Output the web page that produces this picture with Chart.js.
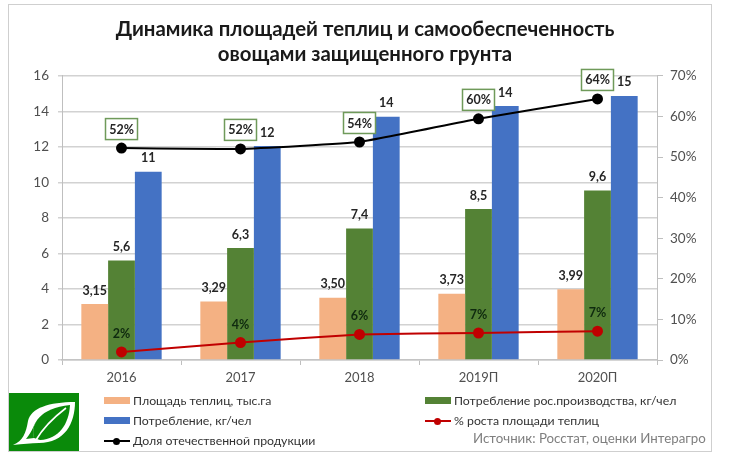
<!DOCTYPE html>
<html><head><meta charset="utf-8">
<script src="https://cdn.jsdelivr.net/npm/chart.js@4"></script>
<style>
html,body{margin:0;padding:0;background:#fff;width:730px;height:463px;overflow:hidden;font-family:Lato,sans-serif}
#frame{position:absolute;left:8px;top:4px;width:704px;height:448px;border:1px solid #cfcfcf;box-sizing:border-box}
#c{position:absolute;left:0;top:0}
#logo{position:absolute;left:9px;top:393px}
.lg{position:absolute;font-size:12.3px;color:#333;line-height:16px;white-space:nowrap}
.sw{position:absolute;width:26px;height:7px}
.ln{position:absolute;width:26px;height:2px}
.dot{position:absolute;width:7px;height:7px;border-radius:50%}
#src{position:absolute;left:473px;top:430px;font-size:13.3px;line-height:16px;color:#7f7f7f;white-space:nowrap}
</style></head><body>
<div id="frame"></div>
<canvas id="c" width="730" height="463"></canvas>
<svg id="logo" width="70" height="58" viewBox="0 0 70 58">
<rect width="70" height="58" fill="#0a8a0a"/>
<path d="M4 52C14 48 17 40 19 28C22 15 40 9 66 9C66 30 56 50 30 50C22 50 14 51 4 52Z" fill="#fff"/>
<path d="M25 45C21 31 31 15 61 12C60 31 50 46 31 47Z" fill="#0a8a0a"/>
<path d="M27 47C34 35 44 25 57 15" fill="none" stroke="#fff" stroke-width="1.6"/>
<path d="M25 45C24 40 24 35 26 30C23 38 20 42 17 46Z" fill="#0a8a0a"/>
</svg>
<div class="sw" style="left:104px;top:397px;background:#f4b183"></div><div class="lg" style="left:133px;top:393px">Площадь теплиц, тыс.га</div>
<div class="sw" style="left:104px;top:417px;background:#4472c4"></div><div class="lg" style="left:133px;top:413px">Потребление, кг/чел</div>
<div class="ln" style="left:104px;top:440px;background:#000"></div><div class="dot" style="left:113px;top:437.5px;background:#000"></div><div class="lg" style="left:133px;top:433px">Доля отечественной продукции</div>
<div class="sw" style="left:425px;top:397px;background:#548235"></div><div class="lg" style="left:454px;top:393px">Потребление рос.производства, кг/чел</div>
<div class="ln" style="left:425px;top:420px;background:#c00000"></div><div class="dot" style="left:434px;top:417.5px;background:#c00000"></div><div class="lg" style="left:454px;top:413px">% роста площади теплиц</div>
<div id="src">Источник: Росстат, оценки Интерагро</div>
<script>
const categories=['2016','2017','2018','2019П','2020П'];
const areaValues=[3.15,3.29,3.50,3.73,3.99];
const domesticConsumption=[5.6,6.3,7.4,8.5,9.55];
const totalConsumption=[10.6,12.05,13.7,14.3,14.87];
const areaGrowth=[2.0,4.3,6.3,6.65,7.1];
const domesticShare=[52.2,52.0,53.7,59.4,64.3];
const areaLabels=['3,15','3,29','3,50','3,73','3,99'];
const domesticLabels=['5,6','6,3','7,4','8,5','9,6'];
const totalLabels=['11','12','14','14','15'];
const growthLabels=['2%','4%','6%','7%','7%'];
const shareLabels=['52%','52%','54%','60%','64%'];
const titleLines=['Динамика площадей теплиц и самообеспеченность','овощами защищенного грунта'];

const labelPlugin={id:'labels',afterDatasetsDraw(ch){
  const g=ch.ctx;g.save();g.textAlign='center';g.textBaseline='middle';
  g.font='bold 12.5px Lato';g.fillStyle='#262626';
  [[0,areaLabels],[1,domesticLabels],[2,totalLabels]].forEach(([d,t])=>{
    ch.getDatasetMeta(d).data.forEach((e,i)=>{g.fillText(t[i],e.x,e.y-13.5)});
  });
  g.fillStyle='#0f2a0f';
  ch.getDatasetMeta(3).data.forEach((e,i)=>{g.fillText(growthLabels[i],e.x,e.y-18)});
  ch.getDatasetMeta(4).data.forEach((e,i)=>{
    g.fillStyle='#fff';g.strokeStyle='#6f9a5a';g.lineWidth=1.5;
    const w=32,h=21,x=e.x-w/2,y=e.y-h-8.5;
    g.fillRect(x,y,w,h);g.strokeRect(x,y,w,h);
    g.fillStyle='#262626';g.fillText(shareLabels[i],e.x,y+h/2+0.5);
  });
  g.restore();
}};

new Chart(document.getElementById('c'),{
  type:'bar',
  data:{labels:categories,datasets:[
    {label:'Площадь теплиц, тыс.га',data:areaValues,backgroundColor:'#f4b183',yAxisID:'y',order:3},
    {label:'Потребление рос.производства, кг/чел',data:domesticConsumption,backgroundColor:'#548235',yAxisID:'y',order:3},
    {label:'Потребление, кг/чел',data:totalConsumption,backgroundColor:'#4472c4',yAxisID:'y',order:3},
    {label:'% роста площади теплиц',type:'line',data:areaGrowth,borderColor:'#c00000',backgroundColor:'#c00000',borderWidth:2,pointRadius:4.5,pointBackgroundColor:'#c00000',yAxisID:'y1',order:1,tension:0.1},
    {label:'Доля отечественной продукции',type:'line',data:domesticShare,borderColor:'#000',backgroundColor:'#000',borderWidth:2,pointRadius:4.5,pointBackgroundColor:'#000',yAxisID:'y1',order:1,tension:0.1}
  ]},
  options:{
    responsive:false,animation:false,
    layout:{padding:0},
    datasets:{bar:{categoryPercentage:0.675,barPercentage:1}},
    plugins:{legend:{display:false},tooltip:{enabled:false},
      title:{display:true,text:titleLines,color:'#1a1a1a',font:{family:'Lato',size:20.4,weight:'bold',lineHeight:1.27},padding:{top:16,bottom:8}}},
    scales:{
      x:{afterFit(a){a.height=103},grid:{drawOnChartArea:false,tickLength:5,color:'#bfbfbf'},border:{color:'#c4c4c4',width:1.5},ticks:{color:'#505050',font:{family:'Lato',size:13},padding:5}},
      y:{position:'left',min:0,max:16,afterFit(a){a.width=62},ticks:{stepSize:2,color:'#505050',font:{family:'Lato',size:13.5},padding:9},grid:{color:'#d2d2d2',lineWidth:1.5,tickLength:4},border:{color:'#bfbfbf'}},
      y1:{position:'right',min:0,max:70,afterFit(a){a.width=73},ticks:{stepSize:10,callback:v=>v+'%',color:'#505050',font:{family:'Lato',size:13.5},padding:7},grid:{drawOnChartArea:false,color:'#bfbfbf',tickLength:6},border:{color:'#bfbfbf'}}
    }
  },
  plugins:[labelPlugin]
});
</script>
</body></html>
